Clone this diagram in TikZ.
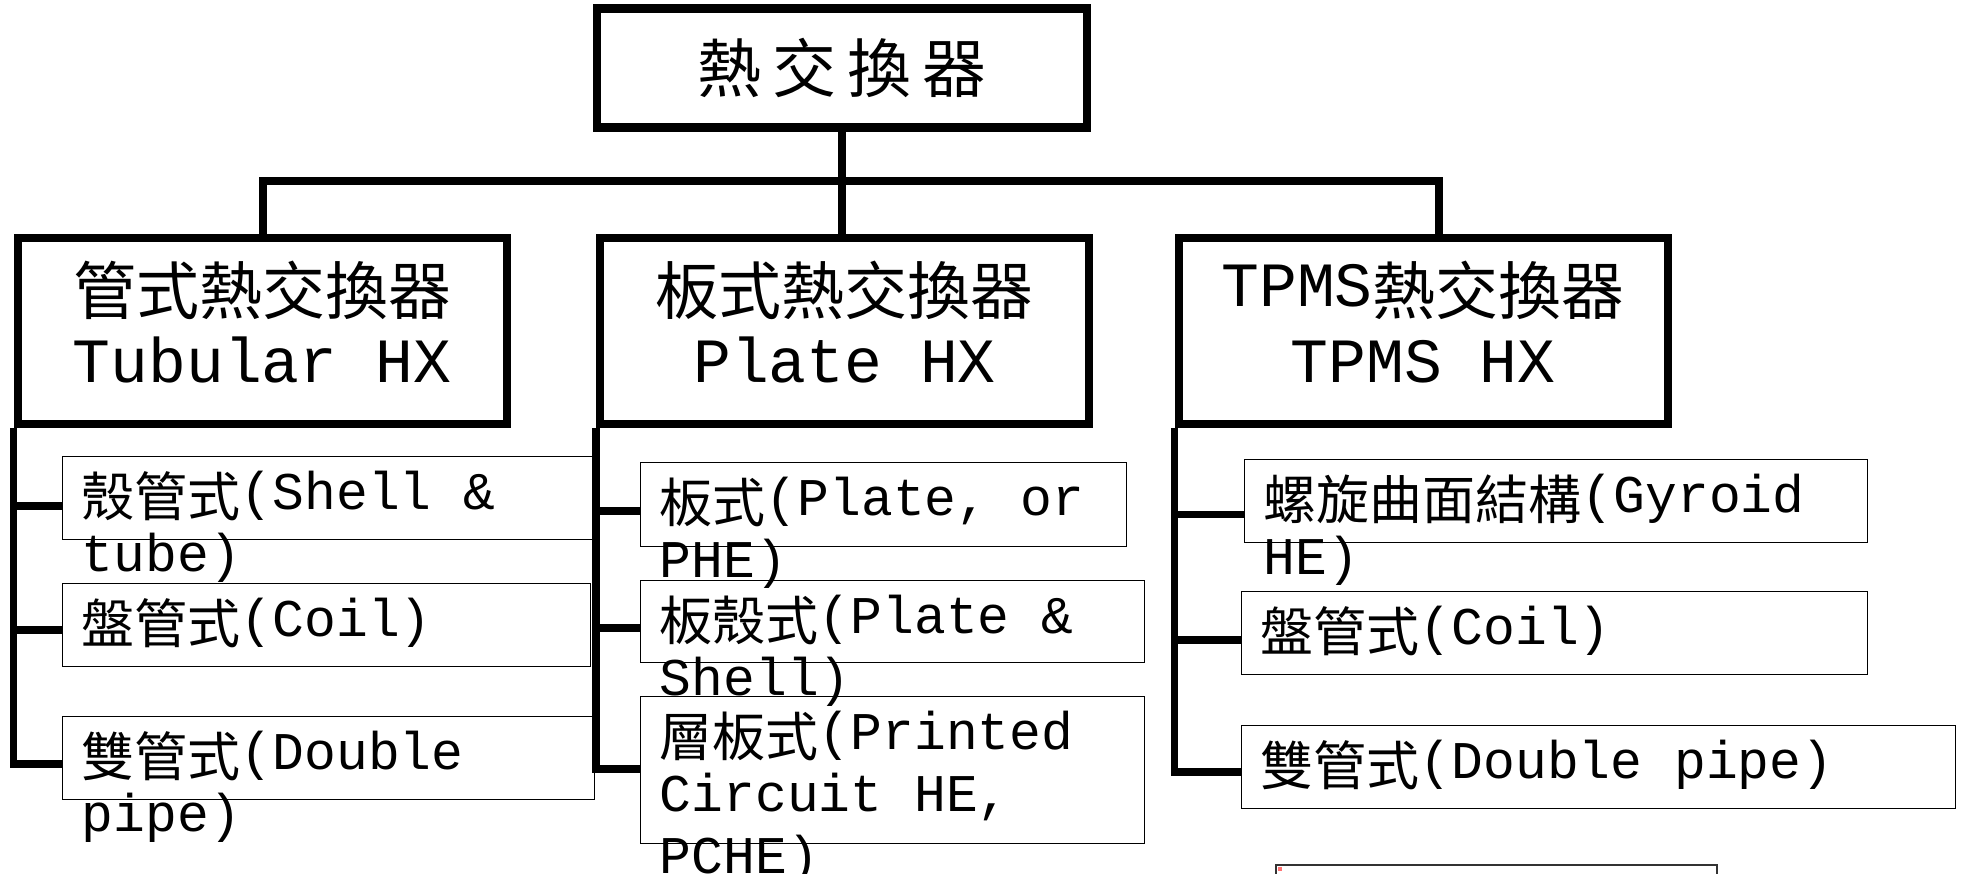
\documentclass[tikz,border=0pt]{standalone}
\usepackage{fontspec}
\setmainfont{Liberation Mono}
\newfontfamily\cjkfont{Noto Sans CJK TC}
\newcommand\C[1]{\raisebox{-0.12em}{\cjkfont #1}}
\newcommand\hdtext[1]{\vtop{\baselineskip=76pt\lineskiplimit=-500pt\halign{\hfil##\hfil\cr#1\crcr}}}
\newcommand\chtext[1]{\vtop{\baselineskip=62pt\lineskiplimit=-500pt\halign{##\hfil\cr#1\crcr}}}
\tikzset{
  titlebox/.style={draw, line width=8.5pt, fill=white, minimum width=490pt, minimum height=119pt, inner sep=0pt},
  hdbox/.style={draw, line width=8pt, fill=white, minimum width=489pt, minimum height=186pt, inner sep=0pt},
  chbox/.style={draw, line width=1.6pt, fill=white, inner sep=0pt},
  conn/.style={line width=7.5pt},
  hdlab/.style={inner sep=0pt, anchor=base, font=\fontsize{63}{76}\selectfont},
  chlab/.style={inner sep=0pt, anchor=base west, font=\fontsize{53}{62}\selectfont},
}
\begin{document}
\begin{tikzpicture}[x=1pt,y=-1pt]
\fill[white] (0,0) rectangle (1972,874);
\useasboundingbox (0,0) rectangle (1972,874);

% title
\node[titlebox, font=\cjkfont\fontsize{64}{70}\selectfont] (title) at (842,68) {熱\hspace{11pt}交\hspace{11pt}換\hspace{11pt}器};

% headers
\node[hdbox] (tub) at (262,331) {};
\node[hdbox] (plate) at (844.5,331) {};
\node[hdbox] (tpms) at (1423,331) {};

% connectors top
\coordinate (jL) at (263,181);
\coordinate (jR) at (1439,181);
\draw[conn] (title.south) -- (title.south |- plate.north);
\draw[conn] (jL |- tub.north) -- (jL) -- (jR) -- (jR |- tpms.north);

% children
\node[chbox, minimum width=532pt, minimum height=83pt] (c11) at (328.5,498) {};
\node[chbox, minimum width=528pt, minimum height=83pt] (c12) at (326.5,625) {};
\node[chbox, minimum width=532pt, minimum height=83pt] (c13) at (328.5,758) {};
\node[chbox, minimum width=486pt, minimum height=84pt] (c21) at (883.5,504.5) {};
\node[chbox, minimum width=504pt, minimum height=82pt] (c22) at (892.5,621.5) {};
\node[chbox, minimum width=504pt, minimum height=147pt] (c23) at (892.5,770) {};
\node[chbox, minimum width=623pt, minimum height=83pt] (c31) at (1556,501) {};
\node[chbox, minimum width=626pt, minimum height=83pt] (c32) at (1554.5,633) {};
\node[chbox, minimum width=714pt, minimum height=83pt] (c33) at (1598.5,767) {};

% stub points
\coordinate (s11) at ([yshift=-8pt]c11.west);
\coordinate (s12) at ([yshift=-5pt]c12.west);
\coordinate (s13) at ([yshift=-6pt]c13.west);
\coordinate (s21) at ([yshift=-6.5pt]c21.west);
\coordinate (s22) at ([yshift=-6.5pt]c22.west);
\coordinate (s23) at ([yshift=1pt]c23.west);
\coordinate (s31) at ([yshift=-13.5pt]c31.west);
\coordinate (s32) at ([yshift=-7pt]c32.west);
\coordinate (s33) at ([yshift=-5pt]c33.west);

% spines and stubs
\draw[conn] (tub.south west) |- (s13);
\draw[conn] (tub.south west |- s11) -- (s11);
\draw[conn] (tub.south west |- s12) -- (s12);
\draw[conn] (plate.south west) |- (s23);
\draw[conn] (plate.south west |- s21) -- (s21);
\draw[conn] (plate.south west |- s22) -- (s22);
\draw[conn] (tpms.south west) |- (s33);
\draw[conn] (tpms.south west |- s31) -- (s31);
\draw[conn] (tpms.south west |- s32) -- (s32);

% header labels
\node[hdlab] (tubt) at ([yshift=24pt]tub.center) {\hdtext{\C{管式熱交換器}\cr Tubular HX}};
\node[hdlab] (platet) at ([yshift=24pt]plate.center) {\hdtext{\C{板式熱交換器}\cr Plate HX}};
\node[hdlab] (tpmst) at ([yshift=24pt]tpms.center) {\hdtext{TPMS\C{熱交換器}\cr TPMS HX}};

% child labels
\node[chlab] (t11) at ([xshift=20pt,yshift=-54pt]c11.north west) {\chtext{\C{殼管式}(Shell \&\cr tube)}};
\node[chlab] (t12) at ([xshift=20pt,yshift=-54pt]c12.north west) {\chtext{\C{盤管式}(Coil)}};
\node[chlab] (t13) at ([xshift=20pt,yshift=-54pt]c13.north west) {\chtext{\C{雙管式}(Double\cr pipe)}};
\node[chlab] (t21) at ([xshift=20pt,yshift=-54pt]c21.north west) {\chtext{\C{板式}(Plate, or\cr PHE)}};
\node[chlab] (t22) at ([xshift=20pt,yshift=-54pt]c22.north west) {\chtext{\C{板殼式}(Plate \&\cr Shell)}};
\node[chlab] (t23) at ([xshift=20pt,yshift=-54pt]c23.north west) {\chtext{\C{層板式}(Printed\cr Circuit HE,\cr PCHE)}};
\node[chlab] (t31) at ([xshift=20pt,yshift=-54pt]c31.north west) {\chtext{\C{螺旋曲面結構}(Gyroid\cr HE)}};
\node[chlab] (t32) at ([xshift=20pt,yshift=-54pt]c32.north west) {\chtext{\C{盤管式}(Coil)}};
\node[chlab] (t33) at ([xshift=20pt,yshift=-54pt]c33.north west) {\chtext{\C{雙管式}(Double pipe)}};

% thumbnail placeholder at bottom
\node[draw=black!80, line width=1.5pt, fill=white, minimum width=441pt, minimum height=30pt, inner sep=0pt, anchor=north west] (thumb) at (1275,864) {};
\node[fill=red!55, minimum size=4pt, inner sep=0pt, anchor=north west] (icon) at (1278,867) {};
\end{tikzpicture}
\end{document}
